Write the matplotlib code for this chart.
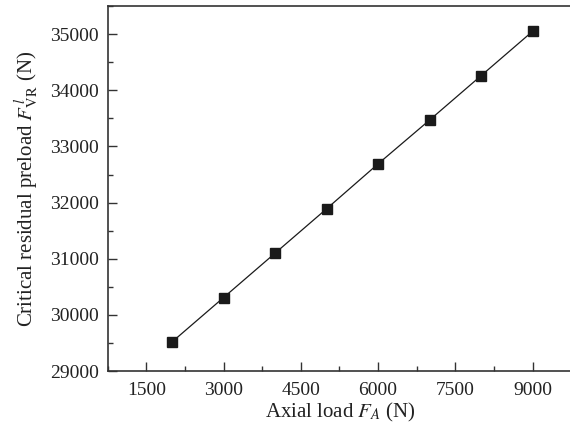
import matplotlib
matplotlib.use("Agg")
import matplotlib.pyplot as plt
from matplotlib.ticker import MultipleLocator

# Data
axial_load = [2000, 3000, 4000, 5000, 6000, 7000, 8000, 9000]
residual_preload = [29520, 30310, 31100, 31890, 32690, 33470, 34260, 35050]

plt.rcParams['font.family'] = ['Liberation Serif', 'DejaVu Serif']
plt.rcParams['mathtext.fontset'] = 'stix'

fig = plt.figure(figsize=(5.7, 4.3), dpi=100)
ax = fig.add_axes([0.189, 0.137, 0.815, 0.849])

ax.plot(axial_load, residual_preload, color='#1a1a1a', lw=0.9,
        marker='s', markersize=7.5, markerfacecolor='#1a1a1a',
        markeredgecolor='#1a1a1a')

ax.set_xlim(750, 9770)
ax.set_ylim(29000, 35500)
ax.xaxis.set_major_locator(MultipleLocator(1500))
ax.xaxis.set_minor_locator(MultipleLocator(750))
ax.yaxis.set_major_locator(MultipleLocator(1000))
ax.yaxis.set_minor_locator(MultipleLocator(500))

ax.tick_params(which='both', direction='in', top=False, right=False,
               color='#333333', labelsize=14, labelcolor='#222222')
ax.tick_params(which='major', length=6.5, width=1.0)
ax.tick_params(which='minor', length=3.5, width=1.0)
ax.tick_params(axis='x', which='major', pad=8)
ax.tick_params(axis='y', which='major', pad=6.5)

for s in ax.spines.values():
    s.set_color('#333333')
    s.set_linewidth(1.2)

ax.set_xlabel(r'Axial load $F_A$ (N)', fontsize=15, color='#222222', labelpad=1)
ax.set_ylabel(r'Critical residual preload $F^{\,l}_{\mathrm{VR}}$ (N)',
              fontsize=15, color='#222222', labelpad=6)

fig.savefig('out.png', dpi=100)
